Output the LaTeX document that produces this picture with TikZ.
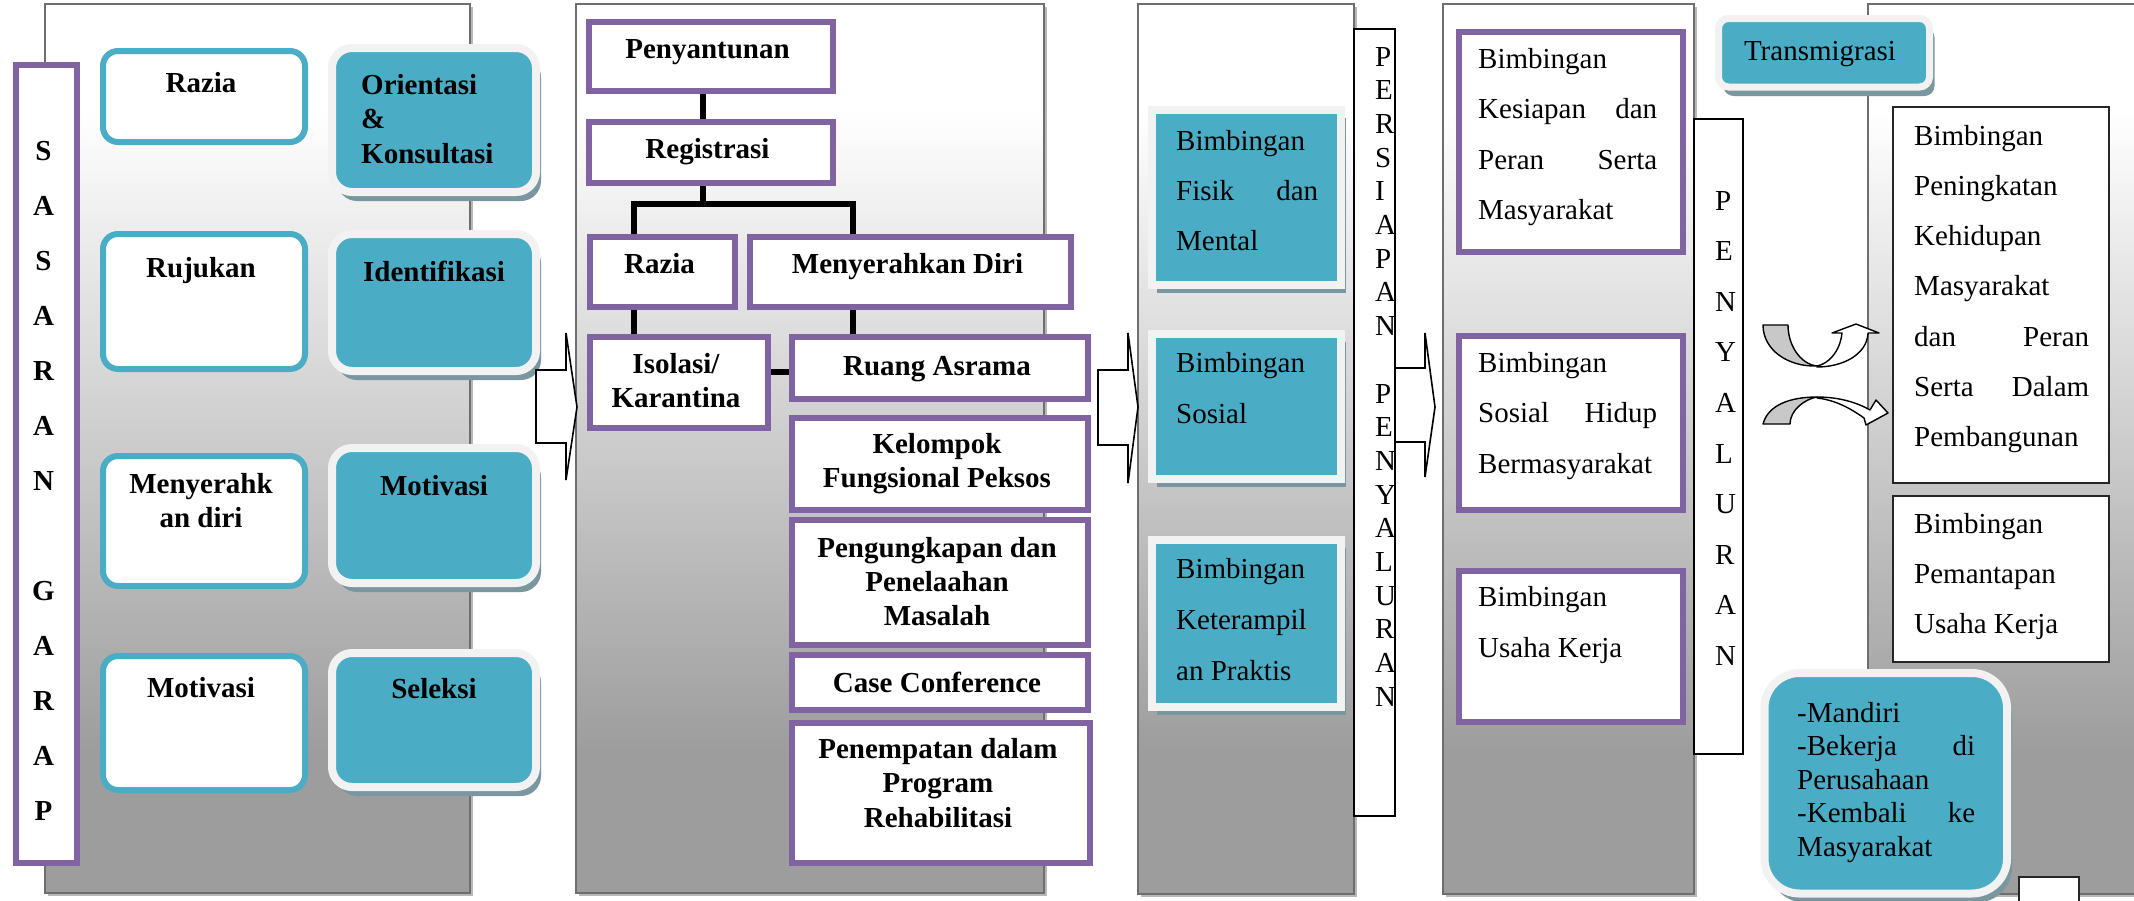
\documentclass[tikz,border=0pt]{standalone}
\usepackage{fontspec}
\setmainfont{Liberation Serif}
\usetikzlibrary{shadows}
\definecolor{tealc}{RGB}{75,172,198}
\definecolor{purp}{RGB}{128,100,162}
\definecolor{lightb}{RGB}{242,242,242}
\definecolor{tshadow}{RGB}{122,150,158}
\definecolor{pgray}{RGB}{157,157,157}
\definecolor{pedge}{RGB}{110,110,110}
\definecolor{arrgray}{RGB}{200,200,200}
\pgfdeclareverticalshading{panelshade}{100bp}{color(0bp)=(pgray); color(33bp)=(pgray); color(69bp)=(white); color(100bp)=(white)}
\newcommand\mycl[2]{\hbox to #1pt{\hfil #2\hfil}}
\newcommand\myjl[2]{\hbox to #1pt{#2}}
\newcommand\mypara[2]{\vtop{\baselineskip=#1pt\lineskiplimit=-200pt\lineskip=0pt #2}}
\newcommand\mybx[6]{\node[#1, anchor=north west, minimum width={(#5-#3)*1pt}, minimum height={(#6-#4)*1pt}] (#2) at (#3,#4) {};}
\tikzset{
  bxbase/.style={inner sep=0pt, outer sep=0pt, rectangle},
  panel/.style={bxbase, draw=pedge, line width=1.8pt, shade, shading=panelshade,
    drop shadow={shadow xshift=3pt, shadow yshift=-3pt, fill=black!28, opacity=1}},
  wbox/.style={bxbase, draw=tealc, line width=6pt, fill=white, rounded corners=15pt, outer sep=3pt},
  tbox/.style={bxbase, draw=lightb, line width=8pt, fill=tealc, rounded corners=20pt,
    drop shadow={shadow xshift=5pt, shadow yshift=-9pt, fill=tshadow, opacity=1}},
  sqbox/.style={bxbase, draw=lightb, line width=8pt, fill=tealc,
    drop shadow={shadow xshift=5pt, shadow yshift=-8pt, fill=tshadow, opacity=1}},
  pbox/.style={bxbase, draw=purp, line width=6pt, fill=white, outer sep=3pt},
  strip/.style={bxbase, draw=black, line width=1.6pt, fill=white},
  kbox/.style={bxbase, draw=black!85, line width=2pt, fill=white},
  conn/.style={draw=black, line width=5.5pt},
  barrow/.style={draw=black, line width=1.6pt, fill=white, line join=miter},
  carrow/.style={draw=black, line width=1.4pt, line join=round},
  txt/.style={inner sep=0pt, font=\fontsize{29}{34}\selectfont},
  btxt/.style={inner sep=0pt, font=\fontsize{29}{34}\selectfont\bfseries}
}
\begin{document}
\begin{tikzpicture}[x=1pt, y=-1pt]
\useasboundingbox (0,0) rectangle (2134,900);
\clip (0,0) rectangle (2134,900);
\fill[white] (0,0) rectangle (2134,900);
% panels
\mybx{panel}{p1}{44.6}{4}{470}{893}
\mybx{panel}{p2}{575.7}{4}{1043.6}{893}
\mybx{panel}{p3}{1138}{4}{1354}{894}
\mybx{panel}{p4}{1443}{4}{1694}{894}
\mybx{panel}{p5}{1868}{4}{2145}{894}
% panel 1
\mybx{pbox}{sas}{13}{62}{74}{860}
\mybx{wbox}{wraz}{100}{48}{302}{139}
\mybx{wbox}{wruj}{100}{231}{302}{366}
\mybx{wbox}{wmen}{100}{453}{302}{583}
\mybx{wbox}{wmot}{100}{653}{302}{787}
\mybx{tbox}{tori}{332}{48}{536}{192}
\mybx{tbox}{tide}{332}{234}{536}{371}
\mybx{tbox}{tmot}{332}{448}{536}{583}
\mybx{tbox}{tsel}{332}{653}{536}{787}
% panel 2
\mybx{pbox}{pen}{585.5}{18.5}{829.5}{87.5}
\mybx{pbox}{reg}{585.5}{119}{829.5}{180}
\mybx{pbox}{raz}{587}{234}{732}{304}
\mybx{pbox}{men}{747}{234}{1068}{304}
\mybx{pbox}{iso}{587}{334}{765}{425}
\mybx{pbox}{rua}{789}{334}{1085}{395.5}
\mybx{pbox}{kel}{789}{414.5}{1085}{507}
\mybx{pbox}{pgk}{789}{517}{1085}{642}
\mybx{pbox}{cas}{789}{651.5}{1085}{706.5}
\mybx{pbox}{pnm}{789}{720}{1087}{860}
% connectors panel 2
\draw[conn] ([xshift=-7.5pt]pen.south) -- ([xshift=-7.5pt]reg.north);
\path ([xshift=-7.5pt]reg.south) coordinate (rs);
\coordinate (tj) at (rs |- 0,204);
\draw[conn] (rs) -- (tj);
\path ([xshift=-28.5pt]raz.north) coordinate (rn);
\path ([xshift=-57.5pt]men.north) coordinate (mn);
\draw[conn] (rn) |- (tj) -| (mn);
\path ([xshift=-28.5pt]raz.south) coordinate (rzs);
\draw[conn] (rzs) -- (rzs |- iso.north);
\path ([xshift=-57.5pt]men.south) coordinate (mns);
\draw[conn] (mns) -- (mns |- rua.north);
\path ([yshift=-4pt]rua.west) coordinate (rw);
\draw[conn] (rw) -- (rw -| iso.east);
% panel 3
\mybx{sqbox}{bfm}{1152}{110}{1341}{285}
\mybx{sqbox}{bso}{1152}{333.5}{1341}{479}
\mybx{sqbox}{bkp}{1152}{540}{1341}{707}
\mybx{strip}{persiapan}{1354}{29}{1395}{816}
% panel 4
\mybx{pbox}{bks}{1455.5}{29}{1680}{249}
\mybx{pbox}{bsh}{1455.5}{332.5}{1680}{506.5}
\mybx{pbox}{buk}{1455.5}{567.5}{1680}{719}
\mybx{strip}{penyaluran}{1694}{119}{1743}{754}
% panel 5
\mybx{tbox,rounded corners=10pt,line width=7pt}{trans}{1718.5}{18.5}{1929.5}{87}
\mybx{kbox}{bpk}{1893}{107}{2109}{483}
\mybx{kbox}{bpu}{1893}{496}{2109}{662}
\mybx{tbox,rounded corners=35pt}{mand}{1764.5}{673}{2007}{893.5}
\mybx{kbox}{smallr}{2019}{877}{2079}{915}
% block arrows
\draw[barrow] (536,370) -- (566,370) -- (566,333) -- (577,407) -- (566,480) -- (566,443) -- (536,443) -- cycle;
\draw[barrow] (1098,370) -- (1128,370) -- (1128,333) -- (1138,407) -- (1128,483) -- (1128,445) -- (1098,445) -- cycle;
\draw[barrow] (1395,368) -- (1425,368) -- (1425,333) -- (1435,407) -- (1425,477) -- (1425,442) -- (1395,442) -- cycle;
% curved arrows
\draw[carrow, fill=arrgray] (1763,325) -- (1788,325) .. controls (1788,345) and (1800,364) .. (1817,366) .. controls (1788,367) and (1763,350) .. (1763,325) -- cycle;
\draw[carrow, fill=white] (1817,367) .. controls (1842,367) and (1867,355) .. (1868,333) -- (1879,333) -- (1856,324) -- (1832,333) -- (1842,333) .. controls (1840,352) and (1828,364) .. (1817,366) -- cycle;
\draw[carrow, fill=arrgray] (1763,424) .. controls (1768,405) and (1790,397) .. (1817,397) .. controls (1805,399) and (1790,410) .. (1790,424) -- cycle;
\draw[carrow, fill=white] (1817,397) .. controls (1840,397) and (1858,403) .. (1870,410) -- (1876,400) -- (1888,413) -- (1866,425) -- (1864,418) .. controls (1850,408) and (1835,400) .. (1817,398) -- cycle;
% texts panel 1
\node[btxt, anchor=base] (lsas) at (43.5,160) {\mypara{55}{\mycl{40}{S}\mycl{40}{A}\mycl{40}{S}\mycl{40}{A}\mycl{40}{R}\mycl{40}{A}\mycl{40}{N}\mycl{40}{}\mycl{40}{G}\mycl{40}{A}\mycl{40}{R}\mycl{40}{A}\mycl{40}{P}}};
\node[btxt, anchor=base] (lwraz) at (201,92) {Razia};
\node[btxt, anchor=base] (lwruj) at (201,277) {Rujukan};
\node[btxt, anchor=base] (lwmen) at (201,493) {\mypara{34}{\mycl{180}{Menyerahk}\mycl{180}{an diri}}};
\node[btxt, anchor=base] (lwmot) at (201,697) {Motivasi};
\node[btxt, anchor=base west] (ltori) at (361,94) {\mypara{34.5}{\hbox{Orientasi}\hbox{\&}\hbox{Konsultasi}}};
\node[btxt, anchor=base] (ltide) at (434,281) {Identifikasi};
\node[btxt, anchor=base] (ltmot) at (434,495) {Motivasi};
\node[btxt, anchor=base] (ltsel) at (434,698) {Seleksi};
% texts panel 2
\node[btxt, anchor=base] (lpen) at (707.5,58) {Penyantunan};
\node[btxt, anchor=base] (lreg) at (707.5,158) {Registrasi};
\node[btxt, anchor=base] (lraz) at (659.5,273) {Razia};
\node[btxt, anchor=base] (lmen) at (907.5,273) {Menyerahkan Diri};
\node[btxt, anchor=base] (liso) at (676,373) {\mypara{34}{\mycl{170}{Isolasi/}\mycl{170}{Karantina}}};
\node[btxt, anchor=base] (lrua) at (937,375) {Ruang Asrama};
\node[btxt, anchor=base] (lkel) at (937,453) {\mypara{34}{\mycl{290}{Kelompok}\mycl{290}{Fungsional Peksos}}};
\node[btxt, anchor=base] (lpgk) at (937,557) {\mypara{34}{\mycl{290}{Pengungkapan dan}\mycl{290}{Penelaahan}\mycl{290}{Masalah}}};
\node[btxt, anchor=base] (lcas) at (937,692) {Case Conference};
\node[btxt, anchor=base] (lpnm) at (938,758) {\mypara{34.5}{\mycl{290}{Penempatan dalam}\mycl{290}{Program}\mycl{290}{Rehabilitasi}}};
% texts panel 3
\node[txt, anchor=base west] (lbfm) at (1176,150) {\mypara{50}{\hbox{Bimbingan}\myjl{142}{Fisik\hfill dan}\hbox{Mental}}};
\node[txt, anchor=base west] (lbso) at (1176,372) {\mypara{51}{\hbox{Bimbingan}\hbox{Sosial}}};
\node[txt, anchor=base west] (lbkp) at (1176,578) {\mypara{51}{\hbox{Bimbingan}\hbox{Keterampil}\hbox{an Praktis}}};
\node[txt, anchor=base west] (lpersiapan) at (1375,66) {\mypara{33.7}{\hbox{P}\hbox{E}\hbox{R}\hbox{S}\hbox{I}\hbox{A}\hbox{P}\hbox{A}\hbox{N}\hbox{}\hbox{P}\hbox{E}\hbox{N}\hbox{Y}\hbox{A}\hbox{L}\hbox{U}\hbox{R}\hbox{A}\hbox{N}}};
% texts panel 4
\node[txt, anchor=base west] (lbks) at (1478,68) {\mypara{50.5}{\hbox{Bimbingan}\myjl{179}{Kesiapan\hfill dan}\myjl{179}{Peran\hfill Serta}\hbox{Masyarakat}}};
\node[txt, anchor=base west] (lbsh) at (1478,372) {\mypara{50.5}{\hbox{Bimbingan}\myjl{179}{Sosial\hfill Hidup}\hbox{Bermasyarakat}}};
\node[txt, anchor=base west] (lbuk) at (1478,606) {\mypara{51}{\hbox{Bimbingan}\hbox{Usaha Kerja}}};
\node[txt, anchor=base west] (lpenyaluran) at (1715,210) {\mypara{50.6}{\hbox{P}\hbox{E}\hbox{N}\hbox{Y}\hbox{A}\hbox{L}\hbox{U}\hbox{R}\hbox{A}\hbox{N}}};
% texts panel 5
\node[txt, anchor=base] (ltrans) at (1820,60) {Transmigrasi};
\node[txt, anchor=base west] (lbpk) at (1914,145) {\mypara{50.3}{\hbox{Bimbingan}\hbox{Peningkatan}\hbox{Kehidupan}\hbox{Masyarakat}\myjl{175}{dan\hfill Peran}\myjl{175}{Serta\hfill Dalam}\hbox{Pembangunan}}};
\node[txt, anchor=base west] (lbpu) at (1914,533) {\mypara{50}{\hbox{Bimbingan}\hbox{Pemantapan}\hbox{Usaha Kerja}}};
\node[txt, anchor=base west] (lmand) at (1797,722) {\mypara{33.5}{\hbox{-Mandiri}\myjl{178}{-Bekerja\hfill di}\hbox{Perusahaan}\myjl{178}{-Kembali\hfill ke}\hbox{Masyarakat}}};
\end{tikzpicture}
\end{document}
